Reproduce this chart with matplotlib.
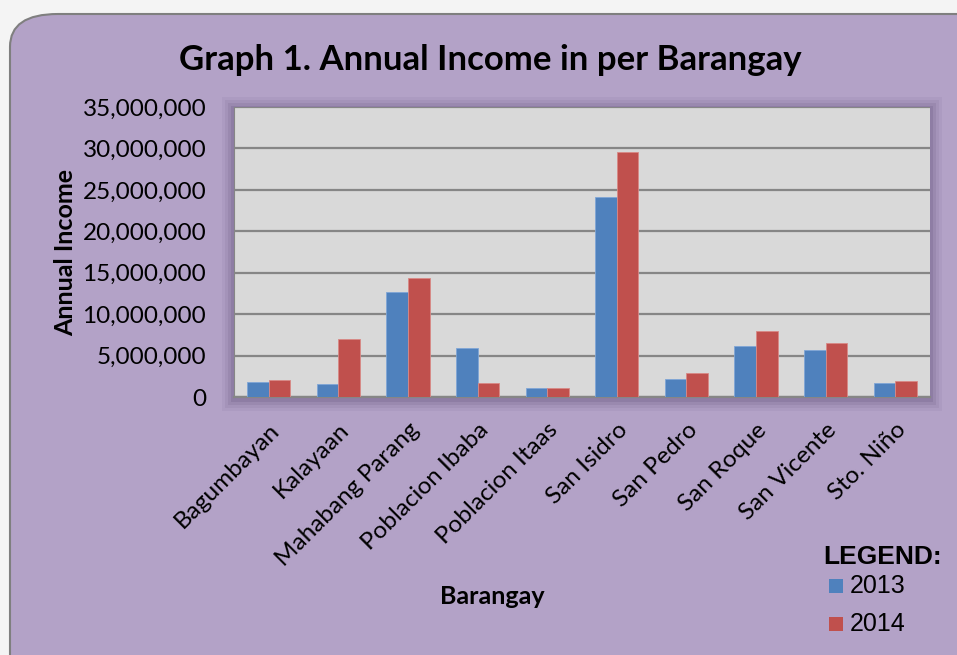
import matplotlib
matplotlib.use("Agg")
import matplotlib.pyplot as plt
from matplotlib.patches import FancyBboxPatch, Rectangle
from matplotlib.ticker import FuncFormatter
import numpy as np

barangays = [
    "Bagumbayan", "Kalayaan", "Mahabang Parang", "Poblacion Ibaba",
    "Poblacion Itaas", "San Isidro", "San Pedro", "San Roque",
    "San Vicente", "Sto. Niño",
]
income_2013 = [1820000, 1570000, 12670000, 5970000, 1090000,
               24090000, 2220000, 6170000, 5650000, 1740000]
income_2014 = [2100000, 7020000, 14410000, 1740000, 1130000,
               29540000, 2910000, 7950000, 6460000, 1980000]
years = ["2013", "2014"]

W, H = 957, 655
font = ["Lato", "DejaVu Sans"]
plt.rcParams["font.family"] = font

fig = plt.figure(figsize=(W / 100, H / 100), dpi=100)
fig.patch.set_facecolor("#F4F4F4")

# rounded purple panel
panel = FancyBboxPatch((10 / W, -0.1), 1.1, (H - 14) / H + 0.1,
                       boxstyle="round,pad=0,rounding_size=0.05",
                       transform=fig.transFigure, facecolor="#B3A2C7",
                       edgecolor="#7F7F7F", linewidth=1.5, zorder=0)
fig.patches.append(panel)

x0, x1, y0, y1 = 234, 930, 107, 397
ax_rect = [x0 / W, 1 - y1 / H, (x1 - x0) / W, (y1 - y0) / H]

# soft shadow behind plot area
for i, a in enumerate([0.05, 0.07, 0.09, 0.12]):
    d = 12 - 3 * i
    fig.patches.append(Rectangle(((x0 - d) / W, 1 - (y1 + d + 2) / H),
                                 (x1 - x0 + 2 * d) / W, (y1 - y0 + 2 * d) / H,
                                 transform=fig.transFigure, facecolor="#3d2a55",
                                 alpha=a, edgecolor="none", zorder=1))

ax = fig.add_axes(ax_rect, zorder=2)
ax.set_facecolor("#D9D9D9")

x = np.arange(len(barangays))
bw = 0.31
ax.bar(x - bw / 2, income_2013, bw, color="#4F81BD", edgecolor="#7FA6D6",
       linewidth=0.6, zorder=3, label=years[0])
ax.bar(x + bw / 2, income_2014, bw, color="#C0504D", edgecolor="#D88986",
       linewidth=0.6, zorder=3, label=years[1])

ax.set_xlim(-0.5, len(barangays) - 0.5)
ax.set_ylim(0, 35000000)
ax.set_yticks(np.arange(0, 35000001, 5000000))
ax.yaxis.set_major_formatter(FuncFormatter(lambda v, p: f"{int(v):,}"))
ax.grid(axis="y", color="#868686", linewidth=1.6, zorder=1)
ax.set_axisbelow(True)
for s in ["top", "right"]:
    ax.spines[s].set_visible(False)
ax.spines["left"].set_color("#868686")
ax.spines["bottom"].set_color("#868686")
ax.spines["bottom"].set_linewidth(1.6)
ax.tick_params(axis="both", length=0, labelsize=17.5, colors="black")
ax.tick_params(axis="y", pad=20)
ax.set_xticks(x)
ax.set_xticklabels(barangays, rotation=45, ha="right", rotation_mode="anchor")
ax.tick_params(axis="x", pad=16)

fig.text(490 / W, 1 - 60 / H, "Graph 1. Annual Income in per Barangay",
         ha="center", va="center", fontsize=25, fontweight="bold")
fig.text(66 / W, 1 - 252 / H, "Annual Income", ha="center", va="center",
         rotation=90, fontsize=18, fontweight="bold")
fig.text(492 / W, 1 - 597 / H, "Barangay", ha="center", va="center",
         fontsize=18, fontweight="bold")

# legend
fig.text(823 / W, 1 - 557 / H, "LEGEND:", ha="left", va="center",
         fontsize=19, fontweight="bold", family=["Liberation Sans", "DejaVu Sans"])
for yy, c, lab in [(586, "#4F81BD", years[0]), (624, "#C0504D", years[1])]:
    fig.patches.append(Rectangle((829 / W, 1 - (yy + 7) / H), 14 / W, 14 / H,
                                 transform=fig.transFigure, facecolor=c,
                                 edgecolor="none", zorder=3))
    fig.text(850 / W, 1 - yy / H, lab, ha="left", va="center", fontsize=18,
             family=["Liberation Sans", "DejaVu Sans"])

fig.savefig("out.png", dpi=100)
